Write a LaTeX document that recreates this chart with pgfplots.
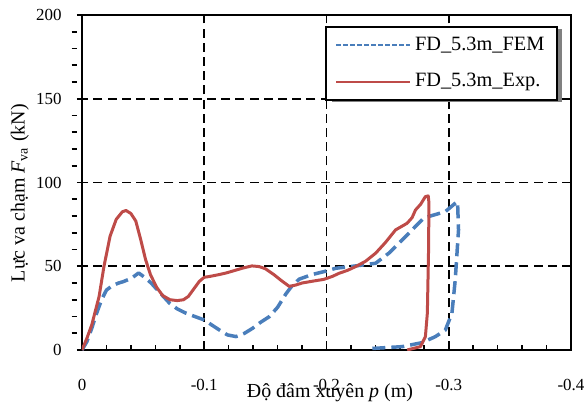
\documentclass[border=0pt]{standalone}
\usepackage{fontspec}
\setmainfont{Liberation Serif}
\usepackage{pgfplots}
\pgfplotsset{compat=1.18}

\definecolor{femblue}{HTML}{4A7EBB}
\definecolor{expred}{HTML}{BE4B48}

\begin{document}
\begin{tikzpicture}
\begin{axis}[
  name=ax,
  scale only axis,
  width=244.5bp, height=167.5bp,
  x dir=reverse,
  xmin=-0.4, xmax=0,
  ymin=0, ymax=200,
  xtick={0,-0.1,-0.2,-0.3,-0.4},
  xticklabels={0,-0.1,-0.2,-0.3,-0.4},
  ytick={0,50,100,150,200},
  yticklabels={0,50,100,150,200},
  minor xtick={-0.02,-0.04,-0.06,-0.08,-0.12,-0.14,-0.16,-0.18,-0.22,-0.24,-0.26,-0.28,-0.32,-0.34,-0.36,-0.38},
  minor ytick={10,20,30,40,60,70,80,90,110,120,130,140,160,170,180,190},
  tick pos=left,
  tick align=inside,
  major tick length=2.6bp,
  minor tick length=2.6bp,
  every y tick/.append style={xshift=-2.6bp},
  every minor y tick/.append style={xshift=-2.6bp},
  every tick/.append style={black, line width=0.8bp},
  axis line style={black, line width=1bp},
  xmajorgrids, ymajorgrids,
  major grid style={black, line width=0.9bp, dash pattern=on 4.5bp off 2.6bp},
  ticklabel style={font=\fontsize{8.5}{10}\selectfont},
  xticklabel style={inner sep=0pt, anchor=center, yshift=-17.5bp},
  yticklabel style={inner sep=0pt, anchor=east, xshift=-10bp},
  xlabel={Độ đâm xuyên \textit{p} (m)},
  ylabel={Lực va chạm \textit{F}\textsubscript{va} (kN)},
  label style={font=\fontsize{9.5}{11}\selectfont},
  every axis x label/.style={at={(axis description cs:0.507,-0.128)}, anchor=center},
  every axis y label/.style={at={(axis description cs:-0.127,0.468)}, anchor=center, rotate=90},
  legend style={at={(axis description cs:0.974,0.967)}, anchor=north east,
    draw=black, line width=0.9bp, fill=white,
    font=\fontsize{10.2}{12}\selectfont,
    inner xsep=4.5bp, inner ysep=3bp, row sep=6bp,
    cells={anchor=west}},
  legend image code/.code={\draw[#1] (0bp,0bp) -- (37bp,0bp);},
]

% shadow behind the legend box
\fill[black!50] (axis description cs:0.511,0.740) rectangle (axis description cs:0.981,0.958);

% FEM result
\addplot[forget plot, femblue, line width=1.75bp, dash pattern=on 6.5bp off 3bp, line join=round] coordinates {
(0,0) (-0.004,5) (-0.008,13) (-0.012,22) (-0.016,30) (-0.020,35.8)
(-0.025,38.5) (-0.030,40) (-0.0337,40.8) (-0.0405,42.8) (-0.0463,46)
(-0.052,43) (-0.0568,39.8) (-0.064,34) (-0.0717,27.9) (-0.078,24.5)
(-0.0853,21.9) (-0.093,19.8) (-0.1002,17.9) (-0.106,15) (-0.1125,11.9)
(-0.119,9) (-0.126,8) (-0.133,10) (-0.1396,13) (-0.146,16.5)
(-0.1532,19.9) (-0.160,25.5) (-0.1668,33.5) (-0.172,38.5) (-0.1777,42.3)
(-0.188,45) (-0.198,46.8) (-0.2076,48.8) (-0.2239,50.2) (-0.2402,51.8)
(-0.251,57.8) (-0.2646,67.7) (-0.2795,78.7) (-0.285,80) (-0.2972,82.6)
(-0.3053,87.6) (-0.3072,88.6) (-0.308,71.7) (-0.3053,41.8) (-0.3026,21.9)
(-0.2972,11.9) (-0.2891,8) (-0.2782,4.4) (-0.2619,2) (-0.2347,0.8)
};

% Experiment
\addplot[forget plot, expred, line width=1.5bp, line join=round] coordinates {
(0,0) (-0.004,7) (-0.008,15) (-0.014,32) (-0.018,50) (-0.023,68)
(-0.028,78) (-0.033,82.5) (-0.036,83.3) (-0.040,81.5) (-0.044,77)
(-0.048,66) (-0.052,54) (-0.056,45) (-0.061,37.5) (-0.066,32.5)
(-0.072,30) (-0.078,29.5) (-0.083,30) (-0.087,32) (-0.091,36)
(-0.096,41) (-0.100,43.4) (-0.105,44) (-0.112,45) (-0.118,46)
(-0.125,47.5) (-0.132,49) (-0.139,50.2) (-0.145,49.8) (-0.150,48.5)
(-0.157,45) (-0.163,41.5) (-0.1695,38) (-0.175,38.8) (-0.180,40)
(-0.188,41) (-0.198,42.2) (-0.205,44) (-0.2103,45.8) (-0.217,47.5)
(-0.2239,49.8) (-0.232,53) (-0.2402,57.8) (-0.248,64) (-0.2565,71.7)
(-0.262,74) (-0.266,75.7) (-0.270,79) (-0.2728,83.6) (-0.277,87)
(-0.2809,91.6) (-0.2832,92) (-0.2838,88) (-0.2835,60) (-0.2825,22)
(-0.2809,8) (-0.2768,2) (-0.266,0)
};

\addlegendimage{femblue, line width=0.8bp, dash pattern=on 2.2bp off 1.3bp}
\addlegendentry{FD\_5.3m\_FEM}
\addlegendimage{expred, line width=1bp}
\addlegendentry{FD\_5.3m\_Exp.}

\coordinate (bl) at (axis description cs:0,0);
\coordinate (tr) at (axis description cs:1,1);
\end{axis}
\pgfresetboundingbox
\path[use as bounding box] ([xshift=-41bp,yshift=-31bp]bl) rectangle ([xshift=8bp,yshift=7.5bp]tr);
\end{tikzpicture}
\end{document}
